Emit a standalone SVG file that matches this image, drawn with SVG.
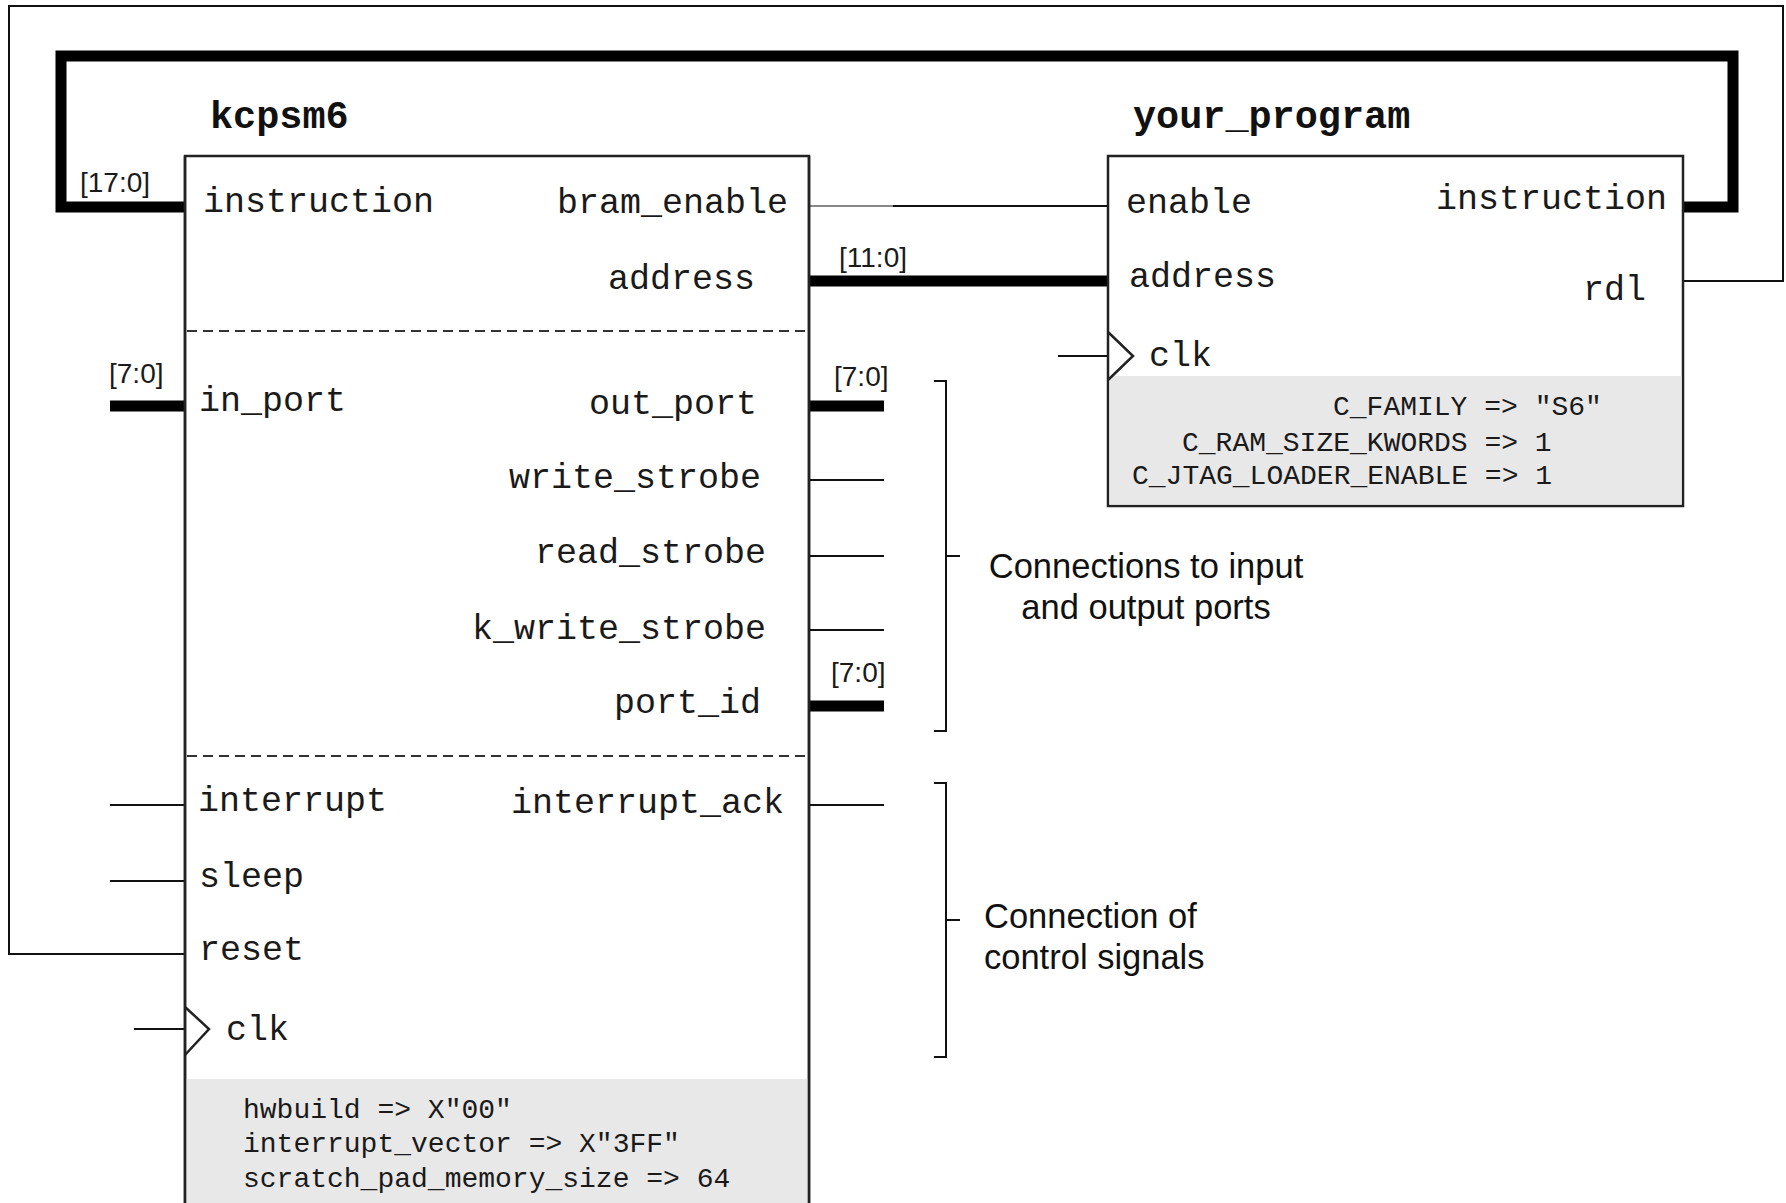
<svg xmlns="http://www.w3.org/2000/svg" width="1786" height="1203" viewBox="0 0 1786 1203">
<style>
.box{fill:#ffffff;stroke:#222222;stroke-width:2.5}
.grey{fill:#e8e8e8;stroke:none}
.edge{fill:none;stroke:#222222;stroke-width:2.5}
.dash{fill:none;stroke:#333333;stroke-width:2.2;stroke-dasharray:10 6}
.wire{fill:none;stroke:#111111;stroke-width:2}
.bus{fill:none;stroke:#000000;stroke-width:11;stroke-linejoin:miter;stroke-linecap:butt}
.port{font-family:"Liberation Mono","Courier New",monospace;font-size:35px;fill:#1a1a1a}
.title{font-family:"Liberation Mono","Courier New",monospace;font-size:38.5px;font-weight:bold;fill:#111111}
.param{font-family:"Liberation Mono","Courier New",monospace;font-size:28px;fill:#1a1a1a}
.buslbl{font-family:"Liberation Sans",Arial,sans-serif;font-size:28px;fill:#1a1a1a}
.note{font-family:"Liberation Sans",Arial,sans-serif;font-size:34.5px;fill:#111111}
</style>
<rect x="0" y="0" width="1786" height="1203" fill="#ffffff"/>

<g id="connectors">
  <!-- rdl to reset loop -->
  <path class="wire" d="M1683,281 H1783 V6 H9 V954 H185"/>
  <!-- instruction bus -->
  <path class="bus" d="M1683,207 H1733 V56 H61 V207 H185"/>
  <!-- bram_enable to enable -->
  <path d="M809,206 H893" fill="none" stroke="#888888" stroke-width="2"/>
  <path class="wire" d="M893,206 H1108"/>
  <!-- address bus -->
  <path class="bus" d="M809,281 H1108"/>
  <!-- left stubs -->
  <path class="bus" d="M110,406 H185"/>
  <path class="wire" d="M110,805 H185"/>
  <path class="wire" d="M110,881 H185"/>
  <path class="wire" d="M134,1029 H185"/>
  <!-- right stubs -->
  <path class="bus" d="M809,406 H884"/>
  <path class="wire" d="M809,480 H884"/>
  <path class="wire" d="M809,556 H884"/>
  <path class="wire" d="M809,630 H884"/>
  <path class="bus" d="M809,706 H884"/>
  <path class="wire" d="M809,805 H884"/>
  <!-- your_program clk -->
  <path class="wire" stroke-width="3" d="M1058,356 H1108"/>
  <!-- bus labels -->
  <text class="buslbl" x="80" y="192">[17:0]</text>
  <text class="buslbl" x="109" y="383">[7:0]</text>
  <text class="buslbl" x="839" y="267">[11:0]</text>
  <text class="buslbl" x="834" y="386">[7:0]</text>
  <text class="buslbl" x="831" y="682">[7:0]</text>
</g>

<g id="kcpsm6">
  <rect class="box" x="185" y="156" width="624" height="1060"/>
  <rect class="grey" x="186.5" y="1079" width="621" height="130"/>
  <path class="edge" d="M185,156 V1210 M809,156 V1210"/>
  <path class="dash" d="M187,331 H808"/>
  <path class="dash" d="M187,756 H808"/>
  <polyline class="edge" points="185,1007 209,1029 185,1055"/>
  <text class="title" x="210" y="128">kcpsm6</text>
  <text class="port" x="203" y="212">instruction</text>
  <text class="port" x="557" y="213">bram_enable</text>
  <text class="port" x="608" y="289">address</text>
  <text class="port" x="199" y="411">in_port</text>
  <text class="port" x="589" y="414">out_port</text>
  <text class="port" x="509" y="488">write_strobe</text>
  <text class="port" x="535" y="563">read_strobe</text>
  <text class="port" x="472" y="639">k_write_strobe</text>
  <text class="port" x="614" y="713">port_id</text>
  <text class="port" x="198" y="811">interrupt</text>
  <text class="port" x="511" y="813">interrupt_ack</text>
  <text class="port" x="199" y="887">sleep</text>
  <text class="port" x="199" y="960">reset</text>
  <text class="port" x="226" y="1040">clk</text>
  <text class="param" x="243" y="1118">hwbuild =&gt; X"00"</text>
  <text class="param" x="243" y="1152">interrupt_vector =&gt; X"3FF"</text>
  <text class="param" x="243" y="1187">scratch_pad_memory_size =&gt; 64</text>
</g>

<g id="your_program">
  <rect class="box" x="1108" y="156" width="575" height="350"/>
  <rect class="grey" x="1109.5" y="376" width="572" height="128.5"/>
  <polyline class="edge" points="1108,332 1133,356 1108,380"/>
  <text class="title" x="1133" y="128">your_program</text>
  <text class="port" x="1126" y="213">enable</text>
  <text class="port" x="1436" y="209">instruction</text>
  <text class="port" x="1129" y="287">address</text>
  <text class="port" x="1583" y="300">rdl</text>
  <text class="port" x="1149" y="366">clk</text>
  <text class="param" x="1333" y="415">C_FAMILY =&gt; "S6"</text>
  <text class="param" x="1182" y="451">C_RAM_SIZE_KWORDS =&gt; 1</text>
  <text class="param" x="1132" y="484">C_JTAG_LOADER_ENABLE =&gt; 1</text>
</g>

<g id="annotations">
  <path class="wire" d="M934,381 H946 V731 H934 M946,556 H960"/>
  <path class="wire" d="M934,783 H946 V1057 H934 M946,920 H960"/>
  <text class="note" x="1146" y="578" text-anchor="middle">Connections to input</text>
  <text class="note" x="1146" y="619" text-anchor="middle">and output ports</text>
  <text class="note" x="984" y="928">Connection of</text>
  <text class="note" x="984" y="969">control signals</text>
</g>
</svg>
